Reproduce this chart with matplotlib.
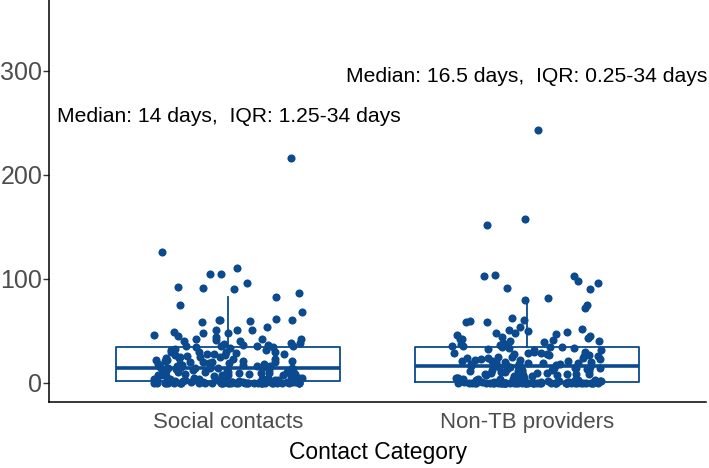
import numpy as np
import matplotlib
matplotlib.use("Agg")
import matplotlib.pyplot as plt

plt.rcParams['font.family'] = ['Liberation Sans', 'DejaVu Sans']

# categories and summary values (from the annotations / box read-off)
categories = ["Social contacts", "Non-TB providers"]
medians = [14, 16.5]
q1 = [1.25, 0.25]
q3 = [34, 34]
whisker_lo = [0, 0]
whisker_hi = [82, 81]
labels = ["Median: 14 days,  IQR: 1.25-34 days",
          "Median: 16.5 days,  IQR: 0.25-34 days"]
label_y = [250.7, 289.4]

# individual durations (days)
social = [216, 126, 110, 105, 105, 96, 92, 91, 90, 86, 82, 75, 68, 61, 60, 60,
          60, 59, 58, 54, 51, 51, 51, 49, 48, 48, 46, 45, 44, 42, 42, 42, 41,
          40, 40, 38, 38, 37, 36, 36, 35, 35, 35, 35, 34,
          34, 33, 32, 31, 30, 30, 30, 29, 28, 28, 27, 26, 25, 25, 24, 24, 23,
          22, 22, 21, 21, 20, 20, 20, 19, 19, 18, 18, 17, 17, 16, 16, 15, 15,
          15, 14, 14, 14, 14, 14, 30, 28, 25, 21, 20, 27, 23, 18, 16, 31,
          14, 13, 13, 12, 12, 11, 11, 10, 10, 10, 10, 9, 9, 8, 8, 8, 7, 7, 7,
          7, 6, 6, 6, 5, 5, 5, 5, 4, 4, 4, 4, 3, 3, 3, 3, 3, 2, 2, 2, 2, 2, 2,
          2, 2, 2, 12, 9, 7, 6, 4, 3,
          1, 1, 1, 1, 1, 1, 1, 1, 1, 1, 1, 1, 1, 1, 0, 0, 0, 0, 0, 0, 0, 0, 0,
          0, 0, 0, 0, 0, 0, 0, 0, 0, 0, 0, 0, 0, 0, 0, 0, 0, 0, 0, 0, 0, 0, 0,
          0, 0, 0, 0, 0]

non_tb = [243, 157, 152, 104, 103, 103, 98, 96, 91, 90, 81, 80, 75, 72, 62, 60,
          59, 58, 58, 54, 52, 51, 50, 49, 48, 48, 47, 46, 45, 44, 43, 42, 42,
          41, 40, 40, 39, 38, 37, 36, 36, 35, 35, 34, 34,
          34, 33, 33, 32, 31, 31, 30, 30, 29, 29, 28, 28, 27, 26, 26, 25, 25,
          24, 24, 23, 23, 22, 22, 21, 21, 20, 20, 20, 19, 19, 18, 18, 18, 17,
          17, 17, 16, 16, 16, 15, 15, 15, 14, 14, 14, 29, 24, 21, 19, 27,
          14, 13, 13, 12, 12, 12, 11, 11, 10, 10, 10, 9, 9, 9, 8, 8, 8, 7, 7,
          7, 6, 6, 6, 5, 5, 5, 5, 4, 4, 4, 3, 3, 3, 3, 2, 2, 2, 2, 1, 1, 1, 1,
          1, 1, 1, 11, 8, 6, 4, 2,
          0, 0, 0, 0, 0, 0, 0, 0, 0, 0, 0, 0, 0, 0, 0, 0, 0, 0, 0, 0, 0, 0, 0,
          0, 0, 0, 0, 0, 0, 0, 0, 0, 0, 0, 0, 0, 0, 0, 0, 0, 0, 0, 0, 0, 0, 0,
          0, 0, 0, 0]

groups = [social, non_tb]
blue = '#0B4A8F'

fig = plt.figure(figsize=(7.09, 4.68), dpi=100)
ax = fig.add_axes([0.0695, 0.1404, 0.9263, 0.8596])

stats = []
for i in range(2):
    stats.append(dict(med=medians[i], q1=q1[i], q3=q3[i],
                      whislo=whisker_lo[i], whishi=whisker_hi[i], fliers=[]))
ax.bxp(stats, positions=[1, 2], widths=0.75, showfliers=False, showcaps=False,
       boxprops=dict(color=blue, linewidth=1.3),
       whiskerprops=dict(color=blue, linewidth=1.3),
       medianprops=dict(color=blue, linewidth=2.6))

# fixed hash-style jitter, +-0.25 wide like geom_jitter
for i, vals in enumerate(groups):
    k = np.arange(len(vals)) + 1 + 500 * i
    frac = (np.sin(k * 12.9898) * 43758.5453) % 1.0
    x = (i + 1) + (frac - 0.5) * 0.5
    ax.scatter(x, vals, s=34, color=blue, linewidths=0, zorder=3)

for i in range(2):
    ax.text(i + 1, label_y[i], labels[i], ha='center', va='baseline',
            fontsize=15.2, color='black')

ax.set_xlim(0.4, 2.6)
ax.set_ylim(-18.8, 368)
ax.set_xticks([1, 2])
ax.set_xticklabels(categories)
ax.set_yticks([0, 100, 200, 300])
ax.tick_params(axis='x', length=0, pad=7, labelsize=16, labelcolor='#4D4D4D')
ax.tick_params(axis='y', length=4, width=1, pad=1, labelsize=18,
               labelcolor='#4D4D4D', color='#333333')
ax.set_xlabel('Contact Category', fontsize=16.5, color='black', labelpad=6)
for side in ['top', 'right']:
    ax.spines[side].set_visible(False)
for side in ['left', 'bottom']:
    ax.spines[side].set_linewidth(1.1)

fig.savefig('out.png', dpi=100)
